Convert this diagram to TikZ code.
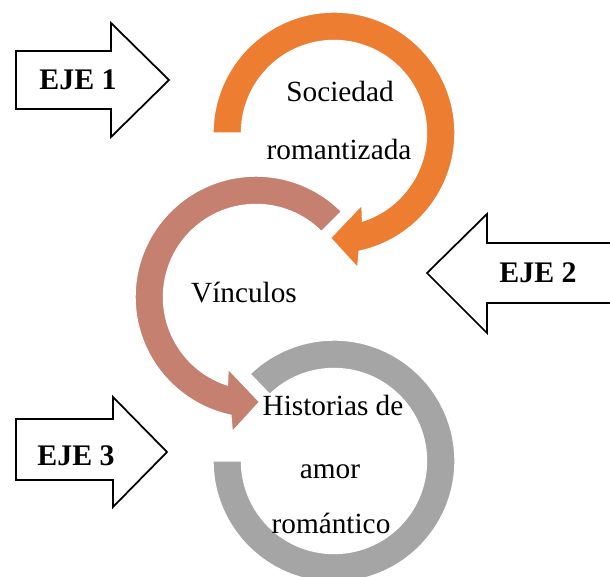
\documentclass[tikz,border=0pt]{standalone}
\usepackage{fontspec}
\setmainfont{Liberation Serif}
\definecolor{naranja}{HTML}{ED7D31}
\definecolor{terracota}{HTML}{C5806F}
\definecolor{gris}{HTML}{A5A5A5}

\begin{document}
\begin{tikzpicture}[x=0.03cm, y=0.03cm,
    anillo/.style={draw=white, line width=1.2pt},
    ejeflecha/.style={draw=black, line width=1.5pt, fill=white, line join=miter},
    etiqueta/.style={font=\fontsize{25}{30}\selectfont, anchor=base, inner sep=0pt},
    eje/.style={font=\bfseries\fontsize{25.5}{30}\selectfont, anchor=base, inner sep=0pt}]
    \useasboundingbox (0,0) rectangle (610,576);
    \clip (0,0) rectangle (610,576);

    % anillo gris (abajo)
    \begin{scope}[shift={(334,115)}]
        \path[anillo, fill=gris] (180:121) arc[start angle=180, end angle=494, radius=121]
        -- (494:92.5) arc[start angle=494, end angle=180, radius=92.5] -- cycle;
    \end{scope}

    % anillo terracota (centro)
    \begin{scope}[shift={(256,279)}]
        \path[anillo, fill=terracota] (45:121) arc[start angle=45, end angle=258, radius=121]
        -- (260:137) -- (272:105) -- (248.7:77) -- (252:92.5)
        arc[start angle=252, end angle=45, radius=92.5] -- cycle;
    \end{scope}

    % anillo naranja (arriba)
    \begin{scope}[shift={(334,443)}]
        \path[anillo, fill=naranja] (180:121) arc[start angle=180, end angle=-78, radius=121]
        -- (-80:137) -- (-92:105) -- (-68.7:77) -- (-72:92.5)
        arc[start angle=-72, end angle=180, radius=92.5] -- cycle;
    \end{scope}

    \node[etiqueta] (soc1) at (340,474) {Sociedad};
    \node[etiqueta] (soc2) at (339,416) {romantizada};
    \node[etiqueta] (vin) at (244,274) {Vínculos};
    \node[etiqueta] (his1) at (333,161) {Historias de};
    \node[etiqueta] (his2) at (330,98) {amor};
    \node[etiqueta] (his3) at (331,43) {romántico};

    % flechas de los ejes
    \draw[ejeflecha] (16,467) -- (111,467) -- (111,439) -- (169,496)
    -- (111,553) -- (111,525) -- (16,525) -- cycle;
    \node[eje] (eje1) at (78,486) {EJE 1};

    \draw[ejeflecha] (615,273) -- (487,273) -- (487,243) -- (427,303)
    -- (487,362) -- (487,333) -- (615,333) -- cycle;
    \node[eje] (eje2) at (538,294) {EJE 2};

    \draw[ejeflecha] (16,96) -- (113,96) -- (113,69) -- (167,124)
    -- (113,179) -- (113,157) -- (16,157) -- cycle;
    \node[eje] (eje3) at (76,111) {EJE 3};
\end{tikzpicture}
\end{document}
